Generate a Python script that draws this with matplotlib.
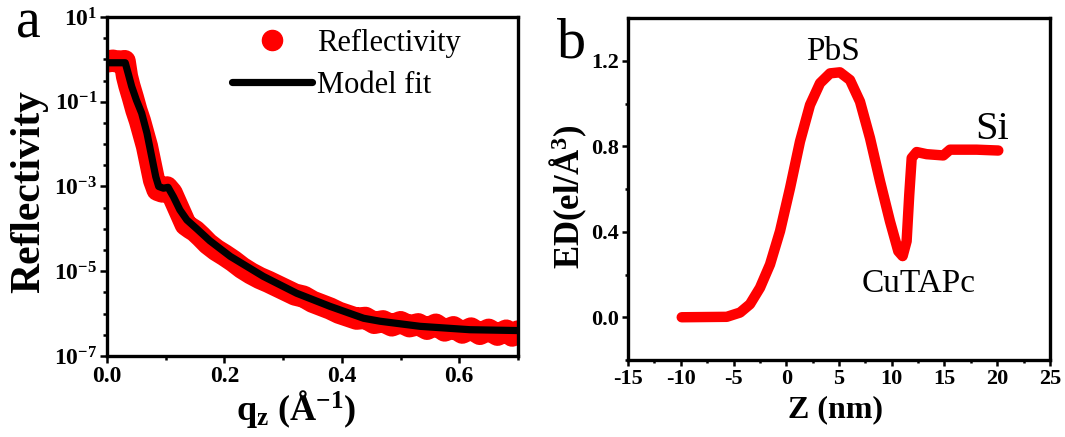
import numpy as np
import matplotlib
matplotlib.use("Agg")
import matplotlib.pyplot as plt
from matplotlib.ticker import FixedLocator, MultipleLocator, FixedFormatter
from matplotlib.lines import Line2D

# (a) X-ray reflectivity: measured data and model fit (log10 of R)
q_data = [0.000, 0.010, 0.020, 0.030, 0.034, 0.038, 0.044, 0.050, 0.056, 0.062,
          0.068, 0.074, 0.080, 0.086, 0.094, 0.102, 0.110, 0.118, 0.126, 0.134,
          0.142, 0.150, 0.160, 0.172, 0.186, 0.200, 0.215, 0.230, 0.245, 0.260,
          0.275, 0.290, 0.305, 0.320, 0.335, 0.350, 0.365, 0.380, 0.395, 0.410,
          0.425, 0.440, 0.455, 0.470, 0.485, 0.500, 0.515, 0.530, 0.545, 0.560,
          0.575, 0.590, 0.605, 0.620, 0.635, 0.650, 0.665, 0.680, 0.690, 0.700]
logR_data = [-0.05, -0.03, -0.06, -0.04, -0.40, -0.62, -0.90, -1.20, -1.45, -1.75,
             -2.05, -2.45, -2.85, -3.08, -3.12, -3.02, -3.15, -3.40, -3.65, -3.90,
             -3.98, -4.05, -4.18, -4.35, -4.50, -4.62, -4.76, -4.92, -5.05, -5.16,
             -5.25, -5.35, -5.45, -5.55, -5.60, -5.72, -5.80, -5.88, -5.98, -6.05,
             -6.12, -6.10, -6.22, -6.18, -6.28, -6.20, -6.30, -6.25, -6.36, -6.26,
             -6.40, -6.32, -6.45, -6.35, -6.48, -6.38, -6.50, -6.40, -6.52, -6.42]

q_fit = [0.000, 0.031, 0.036, 0.042, 0.050, 0.059, 0.068, 0.076, 0.083, 0.088,
         0.096, 0.104, 0.113, 0.124, 0.136, 0.153, 0.175, 0.210, 0.266, 0.323,
         0.380, 0.437, 0.465, 0.533, 0.618, 0.700]
logR_fit = [-0.08, -0.08, -0.33, -0.64, -0.96, -1.27, -1.74, -2.29, -2.77, -3.00,
            -3.04, -3.02, -3.24, -3.55, -3.79, -4.00, -4.28, -4.65, -5.12, -5.52,
            -5.83, -6.11, -6.18, -6.30, -6.38, -6.40]

# (b) electron density profile
z_nm = [-9.91, -5.64, -4.38, -3.44, -2.49, -1.54, -0.59, 0.36, 1.30, 2.25,
        3.20, 4.15, 5.09, 6.04, 6.99, 7.94, 8.89, 9.83, 10.62, 11.03,
        11.41, 11.66, 11.89, 12.36, 13.30, 14.89, 15.52, 18.05, 20.10]
ed = [0.000, 0.002, 0.022, 0.061, 0.138, 0.247, 0.403, 0.605, 0.822, 0.993,
      1.095, 1.141, 1.146, 1.110, 1.009, 0.838, 0.636, 0.449, 0.309, 0.286,
      0.356, 0.574, 0.745, 0.773, 0.763, 0.757, 0.784, 0.784, 0.780]

layer_names = ["PbS", "CuTAPc", "Si"]
layer_pos = [(4.4, 1.24), (12.58, 0.155), (19.47, 0.88)]
layer_size = [24, 24, 29]

yt_exp = [1, -1, -3, -5, -7]

plt.rcParams["font.family"] = "Liberation Serif"
plt.rcParams["mathtext.fontset"] = "custom"
plt.rcParams["mathtext.rm"] = "Liberation Serif"
plt.rcParams["mathtext.bf"] = "Liberation Serif:bold"
plt.rcParams["mathtext.it"] = "Liberation Serif:italic"

red = "#ff0000"
spw = 2.4

fig = plt.figure(figsize=(10.65, 4.37), dpi=100)
ax1 = fig.add_axes([0.1005, 0.1854, 0.3859, 0.7757])
ax2 = fig.add_axes([0.5897, 0.1762, 0.3962, 0.7826])

# ---- panel a
ax1.plot(q_data, 10**np.array(logR_data), "o-", color=red, ms=10, lw=16,
         solid_capstyle="round", solid_joinstyle="round", zorder=2)
ax1.plot(q_fit, 10**np.array(logR_fit), "-", color="black", lw=5.2,
         solid_joinstyle="round", zorder=3)
ax1.set_yscale("log")
ax1.set_xlim(0, 0.7)
ax1.set_ylim(1e-7, 1e1)
ax1.yaxis.set_major_locator(FixedLocator([10.0**e for e in yt_exp]))
ax1.yaxis.set_major_formatter(FixedFormatter([r"$\mathbf{10^{%d}}$" % e for e in yt_exp]))
minors = [10.0**e for e in np.arange(-7, 1.01, 0.5) if e not in yt_exp]
ax1.yaxis.set_minor_locator(FixedLocator(minors))
ax1.yaxis.set_minor_formatter(FixedFormatter([""] * len(minors)))
ax1.xaxis.set_major_locator(MultipleLocator(0.2))
ax1.xaxis.set_minor_locator(MultipleLocator(0.1))
ax1.xaxis.set_major_formatter(plt.FuncFormatter(lambda v, p: "%.1f" % v))

hd = [Line2D([], [], ls="none", marker="o", ms=14.5, color=red),
      Line2D([], [], ls="-", lw=5.2, color="black", solid_capstyle="round")]
ax1.legend(hd, ["Reflectivity", "Model fit"], loc="upper left",
           bbox_to_anchor=(0.304, 0.966), frameon=False, fontsize=22,
           handlelength=2.62, handletextpad=0.16, labelspacing=0.43,
           borderpad=0, borderaxespad=0)

# ---- panel b
ax2.plot(z_nm, ed, "-", color=red, lw=7.5, solid_capstyle="round",
         solid_joinstyle="round")
ax2.set_xlim(-15, 25)
ax2.set_ylim(-0.2, 1.4)
ax2.xaxis.set_major_locator(MultipleLocator(5))
ax2.xaxis.set_minor_locator(MultipleLocator(2.5))
ax2.yaxis.set_major_locator(FixedLocator([0.0, 0.4, 0.8, 1.2]))
ax2.yaxis.set_minor_locator(FixedLocator([-0.2, 0.2, 0.6, 1.0]))
ax2.yaxis.set_major_formatter(plt.FuncFormatter(lambda v, p: "%.1f" % v))
ax2.xaxis.set_major_formatter(plt.FuncFormatter(lambda v, p: "%d" % v))
for name, (zx, ey), fs in zip(layer_names, layer_pos, layer_size):
    ax2.text(zx, ey, name, fontsize=fs, ha="center", va="center")

for ax, fs, ml in [(ax1, 17, 5.0), (ax2, 16, 4.3)]:
    for s in ax.spines.values():
        s.set_linewidth(spw)
    ax.tick_params(which="major", direction="out", length=ml, width=1.8,
                   labelsize=fs, top=False, right=False, pad=2)
    ax.tick_params(which="minor", direction="out", length=ml * 0.55, width=1.8,
                   top=False, right=False)
    for lab in ax.get_xticklabels() + ax.get_yticklabels():
        lab.set_fontweight("bold")

# axis titles and panel letters
fig.text(29.5 / 1065, 1 - 192 / 437, "Reflectivity", rotation=90, fontsize=30,
         fontweight="bold", ha="center", va="center")
fig.text(296 / 1065, 1 - 409 / 437, r"$\mathbf{q_z}$ (Å$^{\mathbf{-1}}$)",
         fontsize=26, fontweight="bold", ha="center", va="center")
fig.text(568 / 1065, 1 - 197 / 437, r"ED(el/Å$^{\mathbf{3}}$)", rotation=90,
         fontsize=25, fontweight="bold", ha="center", va="center")
fig.text(835 / 1065, 1 - 410 / 437, "Z (nm)", fontsize=23, fontweight="bold",
         ha="center", va="center")
fig.text(15.5 / 1065, 1 - 38 / 437, "a", fontsize=40, ha="left", va="baseline")
fig.text(557 / 1065, 1 - 58 / 437, "b", fontsize=42, ha="left", va="baseline")

fig.savefig("out.png", dpi=100)
